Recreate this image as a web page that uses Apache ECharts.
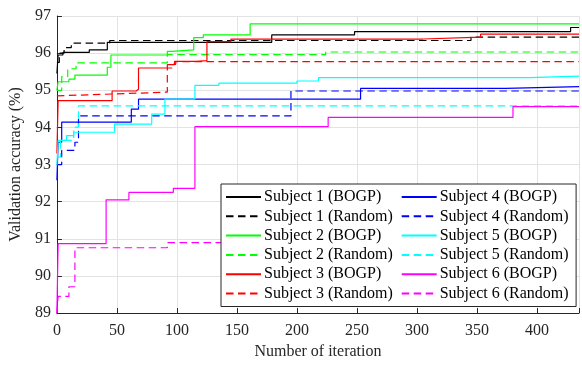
<!DOCTYPE html>
<html>
<head>
<meta charset="utf-8">
<script src="https://cdn.jsdelivr.net/npm/echarts@6/dist/echarts.min.js"></script>
<style>html,body{margin:0;padding:0;background:#fff;}#c{width:582px;height:365px;}</style>
</head>
<body>
<div id="c"></div>
<script>
// x tick labels / axis ranges
const xTicks = [0, 50, 100, 150, 200, 250, 300, 350, 400];
const yTicks = [89, 90, 91, 92, 93, 94, 95, 96, 97];
const xMax = 435;

// Step data: [iteration, best accuracy from that iteration on]
const s1Bogp   = [[0,95.45],[1,95.95],[5,96.02],[27,96.09],[42,96.29],[179,96.49],[248,96.58],[428,96.69],[435,96.69]];
const s1Random = [[0,95.75],[2,96.0],[6,96.15],[12,96.27],[44,96.34],[345,96.43],[435,96.43]];
const s2Bogp   = [[0,95.0],[1,95.23],[10,95.3],[15,95.41],[42,95.62],[45,95.95],[92,96.05],[96,96.09],[114,96.42],[122,96.49],[161,96.79],[435,96.79]];
const s2Random = [[0,95.0],[4,95.37],[9,95.58],[16,95.74],[92,95.96],[224,96.03],[435,96.03]];
const s3Bogp   = [[0,93.3],[1,94.72],[46,94.98],[66,95.03],[68,95.6],[92,95.69],[98,95.78],[116,95.8],[125,96.31],[145,96.38],[305,96.43],[353,96.51],[435,96.51]];
const s3Random = [[0,94.85],[1,94.9],[47,94.95],[92,95.6],[96,95.7],[99,95.77],[435,95.77]];
const s4Bogp   = [[0,92.58],[1,93.6],[4,94.14],[62,94.49],[68,94.76],[253,95.05],[374,95.1],[435,95.1]];
const s4Random = [[0,93.0],[4,93.38],[15,93.6],[18,94.31],[195,94.98],[435,94.98]];
const s5Bogp   = [[0,92.98],[1,93.65],[8,93.78],[14,93.87],[48,94.09],[79,94.36],[90,94.76],[115,95.13],[135,95.19],[200,95.25],[218,95.34],[394,95.38],[435,95.38]];
const s5Random = [[0,93.2],[3,93.65],[14,94.01],[18,94.58],[435,94.58]];
const s6Bogp   = [[0,89.0],[1,90.87],[41,92.05],[60,92.25],[97,92.36],[115,94.02],[226,94.27],[380,94.56],[435,94.56]];
const s6Random = [[0,89.0],[1,89.45],[10,89.71],[15,90.76],[92,90.9],[300,91.75],[435,91.75]];

const names = ['Subject 1 (BOGP)','Subject 1 (Random)','Subject 2 (BOGP)','Subject 2 (Random)','Subject 3 (BOGP)','Subject 3 (Random)',
               'Subject 4 (BOGP)','Subject 4 (Random)','Subject 5 (BOGP)','Subject 5 (Random)','Subject 6 (BOGP)','Subject 6 (Random)'];
const datasets = [s1Bogp,s1Random,s2Bogp,s2Random,s3Bogp,s3Random,s4Bogp,s4Random,s5Bogp,s5Random,s6Bogp,s6Random];
const colors = ['#000000','#000000','#00ff00','#00ff00','#ff0000','#ff0000','#0000ff','#0000ff','#00ffff','#00ffff','#ff00ff','#ff00ff'];

const FONT = 'Liberation Serif';
const chart = echarts.init(document.getElementById('c'), null, {renderer:'canvas'});
const series = datasets.map((d,i) => ({
  name: names[i], type: 'line', step: 'end', data: d, symbol: 'none', showSymbol: false,
  color: colors[i],
  lineStyle: {color: colors[i], width: 1.2, type: (i % 2 === 1) ? [7.5, 4.5] : 'solid'},
  z: 2, animation: false
}));

chart.setOption({
  animation: false,
  backgroundColor: '#ffffff',
  grid: {left: 50, right: 2, top: 16, bottom: 49, containLabel: false},
  xAxis: {
    type: 'value', min: 0, max: xMax, interval: 50,
    name: 'Number of iteration', nameLocation: 'middle', nameGap: 30,
    nameTextStyle: {fontFamily: FONT, fontSize: 16, color: '#262626'},
    axisLine: {show: true, lineStyle: {color: '#262626', width: 1}},
    axisTick: {show: true, inside: true, length: 5, lineStyle: {color: '#262626'}},
    axisLabel: {fontFamily: FONT, fontSize: 16, color: '#262626', margin: 10,
      formatter: v => xTicks.includes(v) ? String(v) : ''},
    splitLine: {show: true, lineStyle: {color: '#e3e3e3', width: 1}}
  },
  yAxis: {
    type: 'value', min: 89, max: 97, interval: 1,
    name: 'Validation accuracy (%)', nameLocation: 'middle', nameGap: 30, nameRotate: 90,
    nameTextStyle: {fontFamily: FONT, fontSize: 16, color: '#262626'},
    axisLine: {show: true, lineStyle: {color: '#262626', width: 1}},
    axisTick: {show: true, inside: true, length: 5, lineStyle: {color: '#262626'}},
    axisLabel: {fontFamily: FONT, fontSize: 16, color: '#262626', margin: 6,
      formatter: v => yTicks.includes(v) ? String(v) : ''},
    splitLine: {show: true, lineStyle: {color: '#e3e3e3', width: 1}}
  },
  legend: {
    orient: 'vertical', left: 221, top: 184, height: 115,
    data: names,
    itemWidth: 35, itemHeight: 12, itemGap: 3.3,
    padding: [5, 3, 5, 4],
    backgroundColor: '#ffffff', borderColor: '#262626', borderWidth: 1,
    itemStyle: {color: 'transparent', borderColor: 'transparent', borderWidth: 0, opacity: 0},
    textStyle: {fontFamily: FONT, fontSize: 16, color: '#000000', lineHeight: 16, width: 133.4, padding: [0,0,0,-2]},
    selectedMode: false, z: 10
  },
  series: series
});
</script>
</body>
</html>
